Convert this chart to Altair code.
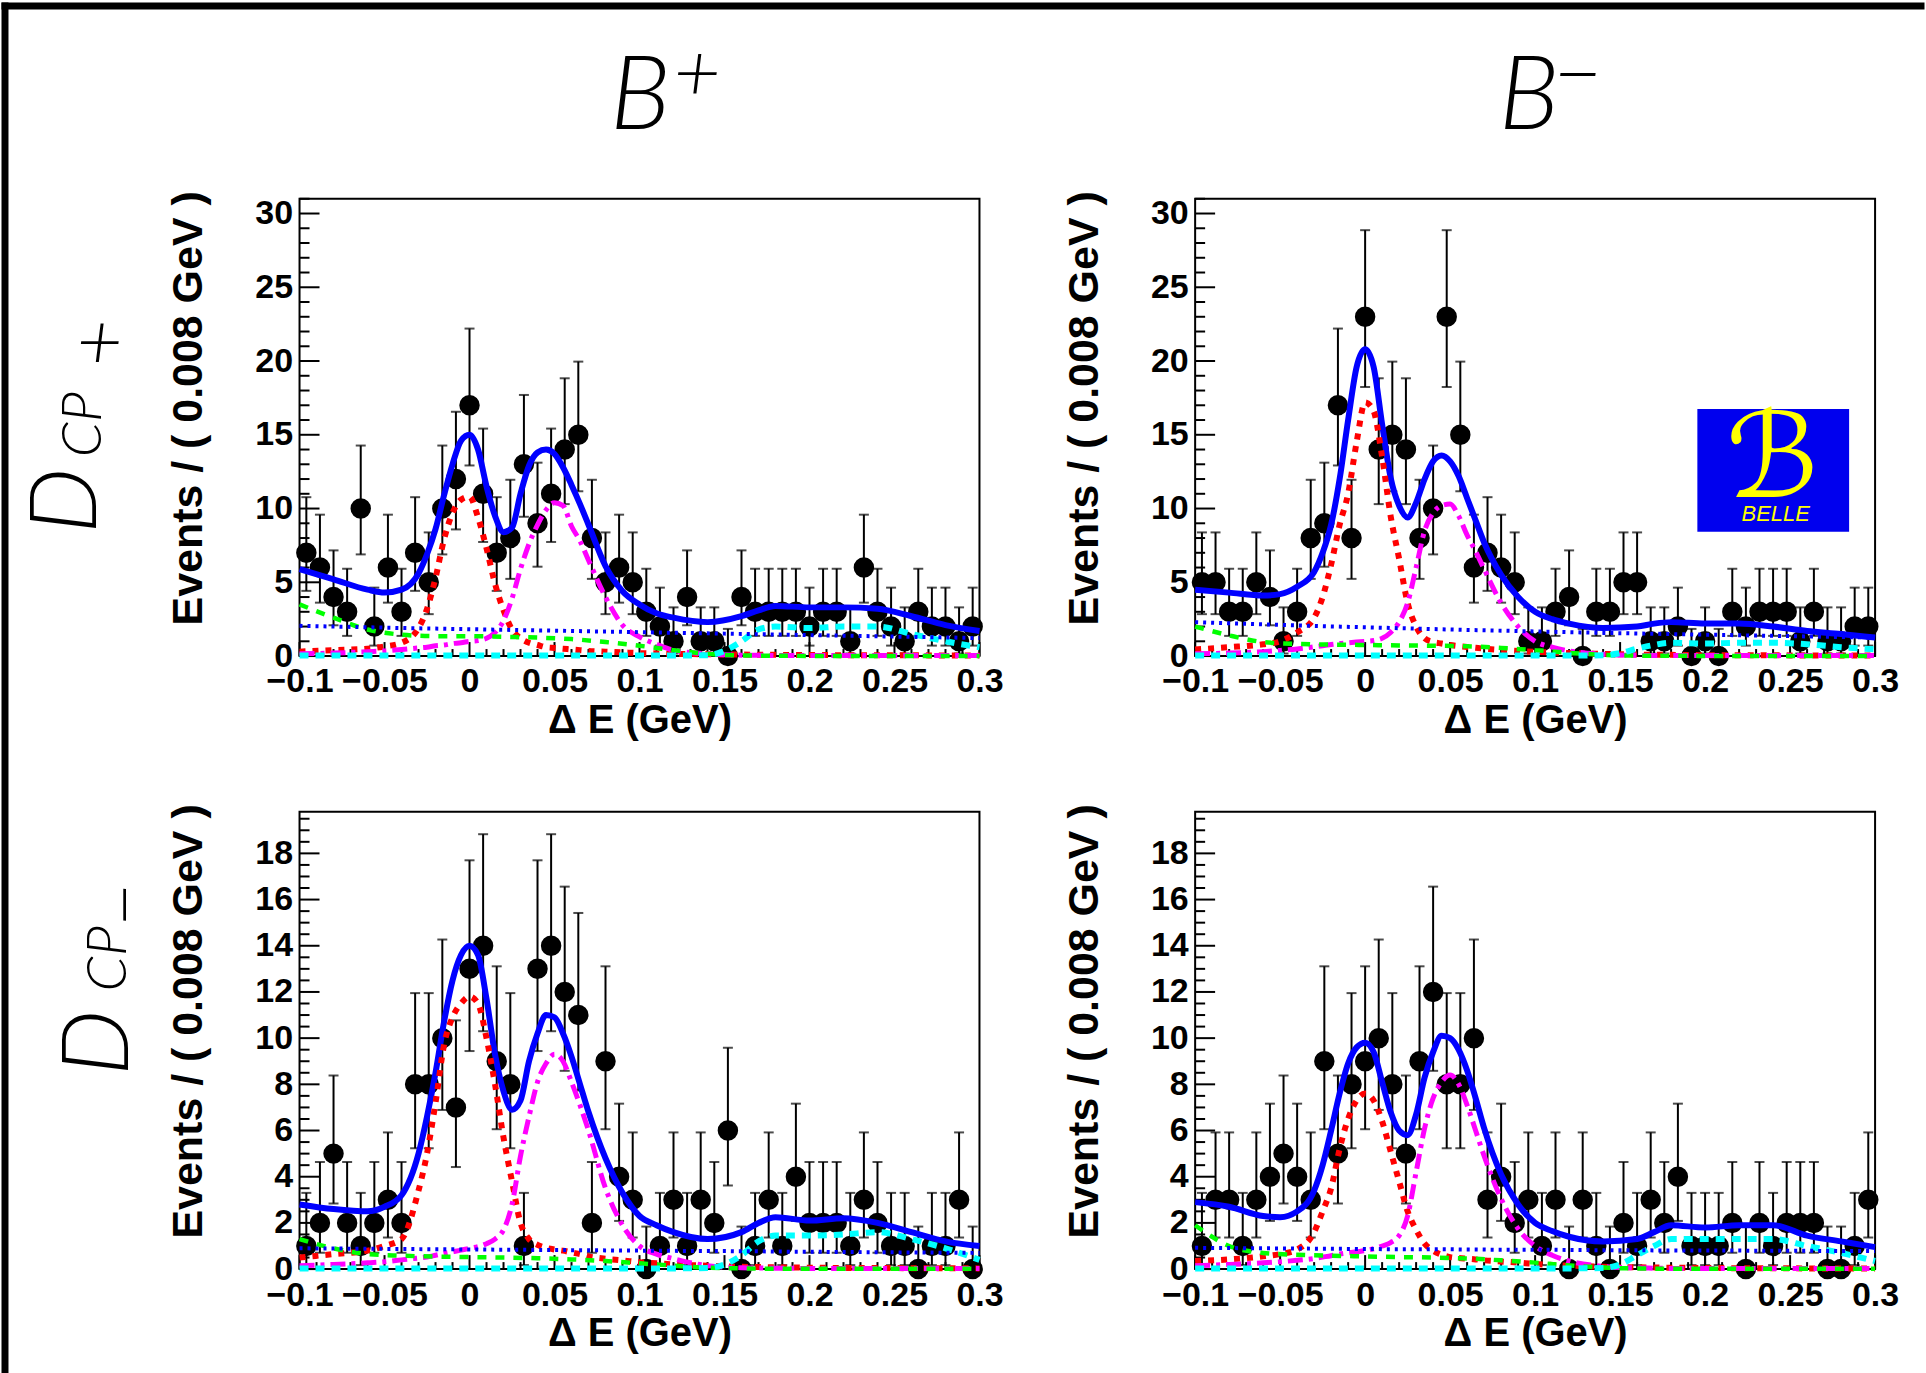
import altair as alt
import pandas as pd

# ---------------- data ----------------
BIN_CENTERS = [-0.096, -0.088, -0.080, -0.072, -0.064, -0.056, -0.048, -0.040, -0.032, -0.024,
               -0.016, -0.008, 0.000, 0.008, 0.016, 0.024, 0.032, 0.040, 0.048, 0.056,
               0.064, 0.072, 0.080, 0.088, 0.096, 0.104, 0.112, 0.120, 0.128, 0.136,
               0.144, 0.152, 0.160, 0.168, 0.176, 0.184, 0.192, 0.200, 0.208, 0.216,
               0.224, 0.232, 0.240, 0.248, 0.256, 0.264, 0.272, 0.280, 0.288, 0.296]

# 68% Poisson (Garwood) interval ends for n = 0..23 events
POIS_LO = [0.0, 0.173, 0.708, 1.367, 2.086, 2.840, 3.620, 4.419, 5.232, 6.057, 6.891, 7.734,
           8.585, 9.441, 10.30, 11.17, 12.04, 12.92, 13.80, 14.68, 15.57, 16.45, 17.35, 18.24]
POIS_HI = [1.841, 3.300, 4.638, 5.918, 7.163, 8.382, 9.584, 10.77, 11.95, 13.11, 14.27, 15.42,
           16.56, 17.70, 18.83, 19.96, 21.08, 22.20, 23.32, 24.44, 25.55, 26.66, 27.76, 28.87]

TL_COUNTS = [7, 6, 4, 3, 10, 2, 6, 3, 7, 5, 10, 12, 17, 11, 7, 8, 13, 9, 11, 14, 15, 8, 5, 6, 5,
             3, 2, 1, 4, 1, 1, 0, 4, 3, 3, 3, 3, 2, 3, 3, 1, 6, 3, 2, 1, 3, 2, 2, 1, 2]
TR_COUNTS = [5, 5, 3, 3, 5, 4, 1, 3, 8, 9, 17, 8, 23, 14, 15, 14, 8, 10, 23, 15, 6, 7, 6, 5, 1,
             1, 3, 4, 0, 3, 3, 5, 5, 1, 1, 2, 0, 1, 0, 3, 2, 3, 3, 3, 1, 3, 1, 1, 2, 2]
BL_COUNTS = [1, 2, 5, 2, 1, 2, 3, 2, 8, 8, 10, 7, 13, 14, 9, 8, 1, 13, 14, 12, 11, 2, 9, 4, 3,
             0, 1, 3, 1, 3, 2, 6, 0, 1, 3, 1, 4, 2, 2, 2, 1, 3, 2, 1, 1, 0, 1, 1, 3, 0]
BR_COUNTS = [1, 3, 3, 1, 3, 4, 5, 4, 3, 9, 5, 8, 9, 10, 8, 5, 9, 12, 8, 8, 10, 3, 4, 2, 3,
             1, 3, 0, 3, 1, 0, 2, 1, 3, 2, 4, 1, 1, 1, 2, 0, 2, 1, 2, 2, 2, 0, 0, 1, 3]

# sample points of the fitted curves
XS = [-0.1, -0.08, -0.06, -0.05, -0.04, -0.03, -0.025, -0.02, -0.015, -0.01, -0.005, 0.0,
      0.005, 0.01, 0.015, 0.02, 0.025, 0.03, 0.035, 0.04, 0.045, 0.05, 0.055, 0.06, 0.065,
      0.07, 0.08, 0.09, 0.1, 0.11, 0.12, 0.14, 0.16, 0.17, 0.18, 0.2, 0.22, 0.24, 0.26, 0.28, 0.3]
BG_X = [-0.1, -0.08, -0.06, -0.04, -0.02, 0.0, 0.02, 0.04, 0.06, 0.08, 0.1, 0.12, 0.14, 0.15,
        0.16, 0.17, 0.18, 0.2, 0.22, 0.24, 0.26, 0.28, 0.3]

TL_TOTAL = [5.9, 5.2, 4.5, 4.3, 4.5, 5.6, 6.9, 8.6, 10.9, 13.0, 14.6, 15.0, 14.0, 11.5, 9.5, 8.4,
            8.7, 11.0, 12.9, 13.8, 14.0, 13.7, 12.8, 11.6, 10.3, 8.9, 6.1, 4.4, 3.5, 2.9, 2.6,
            2.3, 2.7, 3.1, 3.4, 3.3, 3.3, 3.2, 2.7, 2.1, 1.7]
TL_RED = [0.3, 0.4, 0.5, 0.65, 0.9, 1.9, 3.2, 5.3, 7.9, 9.7, 10.6, 10.8, 9.4, 7.3, 4.9, 3.1, 1.8,
          1.2, 0.9, 0.75, 0.6, 0.55, 0.5, 0.45, 0.4, 0.35, 0.3, 0.25, 0.2, 0.18, 0.15, 0.12, 0.1,
          0.09, 0.08, 0.07, 0.06, 0.05, 0.05, 0.04, 0.04]
TL_MAG = [0.15, 0.2, 0.3, 0.35, 0.45, 0.55, 0.6, 0.7, 0.75, 0.85, 0.9, 1.0, 1.05, 1.2, 1.6, 2.4,
          3.9, 5.9, 7.6, 8.9, 9.9, 10.4, 10.2, 8.8, 7.8, 6.5, 4.0, 2.1, 1.3, 0.8, 0.4, 0.15, 0.06,
          0.05, 0.04, 0.03, 0.03, 0.03, 0.03, 0.03, 0.03]
TL_GREEN = [3.5, 2.6, 1.8, 1.45, 1.35, 1.35, 1.3, 1.25, 1.15, 0.95, 0.7, 0.4, 0.15, 0.08, 0.04,
            0.03, 0.02, 0.01, 0.01, 0.01, 0.01, 0.01, 0.01]
TL_CYAN = [0.03, 0.03, 0.03, 0.03, 0.03, 0.03, 0.03, 0.03, 0.03, 0.03, 0.03, 0.03, 0.06, 0.35,
           1.0, 1.8, 2.0, 1.9, 2.0, 2.0, 1.5, 1.0, 0.6]
TL_COMB = [2.05, 2.0, 1.95, 1.9, 1.86, 1.82, 1.78, 1.74, 1.7, 1.66, 1.62, 1.58, 1.54, 1.52, 1.5,
           1.48, 1.46, 1.42, 1.38, 1.34, 1.3, 1.26, 1.22]

TR_TOTAL = [4.5, 4.3, 4.1, 4.2, 4.7, 5.7, 7.0, 8.9, 12.0, 16.0, 19.6, 20.8, 19.6, 15.7, 12.1,
            10.2, 9.4, 10.4, 12.0, 13.2, 13.6, 13.2, 12.2, 10.7, 9.2, 7.7, 5.5, 4.0, 3.0, 2.5,
            2.2, 1.9, 2.0, 2.2, 2.3, 2.2, 2.2, 2.0, 1.7, 1.5, 1.25]
TR_RED = [0.45, 0.6, 0.8, 1.0, 1.6, 2.6, 4.0, 6.2, 8.9, 11.0, 14.5, 17.2, 16.6, 13.5, 9.5, 6.6,
          3.6, 2.0, 1.2, 0.95, 0.85, 0.75, 0.68, 0.62, 0.56, 0.5, 0.42, 0.35, 0.28, 0.24, 0.2,
          0.15, 0.1, 0.09, 0.08, 0.06, 0.05, 0.05, 0.04, 0.04, 0.03]
TR_MAG = [0.15, 0.2, 0.3, 0.38, 0.48, 0.62, 0.7, 0.78, 0.85, 0.9, 0.95, 1.0, 1.05, 1.2, 1.6, 2.3,
          3.6, 6.0, 8.5, 9.7, 10.2, 10.3, 9.5, 8.2, 7.1, 5.9, 3.6, 2.0, 1.0, 0.6, 0.35, 0.12,
          0.05, 0.04, 0.03, 0.03, 0.03, 0.03, 0.03, 0.03, 0.03]
TR_GREEN = [2.0, 1.4, 0.95, 0.82, 0.78, 0.75, 0.72, 0.7, 0.66, 0.55, 0.4, 0.22, 0.08, 0.05, 0.03,
            0.02, 0.02, 0.01, 0.01, 0.01, 0.01, 0.01, 0.01]
TR_CYAN = [0.03, 0.03, 0.03, 0.03, 0.03, 0.03, 0.03, 0.03, 0.03, 0.03, 0.03, 0.03, 0.05, 0.2,
           0.5, 0.75, 0.9, 0.85, 0.9, 0.9, 0.8, 0.6, 0.45]
TR_COMB = [2.3, 2.22, 2.15, 2.08, 2.01, 1.95, 1.89, 1.83, 1.77, 1.72, 1.67, 1.62, 1.57, 1.55,
           1.53, 1.51, 1.49, 1.45, 1.41, 1.37, 1.33, 1.29, 1.25]

BL_TOTAL = [2.8, 2.6, 2.5, 2.7, 3.2, 5.0, 6.6, 8.5, 10.7, 12.5, 13.6, 14.0, 13.6, 11.7, 9.3, 7.7,
            6.9, 7.3, 9.0, 10.2, 11.0, 10.9, 10.2, 9.2, 8.0, 6.8, 4.8, 3.3, 2.3, 1.9, 1.6, 1.3,
            1.6, 2.0, 2.25, 2.1, 2.2, 2.0, 1.6, 1.2, 1.0]
BL_RED = [0.5, 0.65, 0.8, 1.0, 1.3, 3.4, 5.0, 7.2, 9.7, 10.9, 11.5, 11.8, 11.5, 10.0, 8.0, 5.7,
          3.8, 2.0, 1.3, 1.05, 0.92, 0.85, 0.8, 0.72, 0.65, 0.55, 0.45, 0.38, 0.3, 0.25, 0.2,
          0.15, 0.1, 0.09, 0.08, 0.06, 0.05, 0.05, 0.04, 0.04, 0.03]
BL_MAG = [0.15, 0.2, 0.27, 0.32, 0.4, 0.48, 0.52, 0.6, 0.68, 0.75, 0.82, 0.9, 0.97, 1.1, 1.3,
          1.7, 2.8, 4.9, 6.6, 8.1, 8.9, 9.3, 9.0, 8.1, 7.1, 6.0, 3.5, 1.9, 1.0, 0.65, 0.45, 0.15,
          0.06, 0.05, 0.04, 0.03, 0.03, 0.03, 0.03, 0.03, 0.03]
BL_GREEN = [1.3, 0.9, 0.65, 0.58, 0.54, 0.52, 0.5, 0.47, 0.42, 0.35, 0.25, 0.15, 0.06, 0.04, 0.03,
            0.02, 0.02, 0.01, 0.01, 0.01, 0.01, 0.01, 0.01]
BL_CYAN = [0.03, 0.03, 0.03, 0.03, 0.03, 0.03, 0.03, 0.03, 0.03, 0.03, 0.03, 0.03, 0.05, 0.2,
           0.6, 1.2, 1.45, 1.45, 1.5, 1.6, 1.3, 0.9, 0.4]
BL_COMB = [0.9, 0.89, 0.88, 0.87, 0.86, 0.85, 0.84, 0.83, 0.82, 0.81, 0.8, 0.79, 0.78, 0.78, 0.77,
           0.77, 0.76, 0.75, 0.74, 0.73, 0.72, 0.71, 0.7]

BR_TOTAL = [2.9, 2.7, 2.3, 2.25, 2.5, 3.4, 4.5, 6.0, 7.6, 8.9, 9.6, 9.8, 9.4, 8.1, 6.8, 6.0, 5.8,
            6.7, 8.3, 9.4, 10.1, 10.0, 9.5, 8.6, 7.4, 6.1, 4.1, 2.8, 2.0, 1.65, 1.4, 1.2, 1.3,
            1.6, 1.9, 1.8, 1.9, 1.9, 1.45, 1.2, 0.95]
BR_RED = [0.35, 0.42, 0.55, 0.65, 0.85, 1.6, 2.5, 3.5, 5.2, 6.5, 7.3, 7.6, 7.3, 6.4, 5.1, 3.8,
          2.5, 1.7, 1.1, 0.8, 0.62, 0.52, 0.48, 0.45, 0.42, 0.38, 0.33, 0.28, 0.22, 0.18, 0.15,
          0.1, 0.08, 0.07, 0.06, 0.05, 0.04, 0.04, 0.03, 0.03, 0.03]
BR_MAG = [0.15, 0.2, 0.27, 0.32, 0.38, 0.46, 0.52, 0.58, 0.65, 0.7, 0.75, 0.8, 0.88, 1.0, 1.15,
          1.45, 2.3, 4.2, 6.1, 7.4, 8.1, 8.4, 8.0, 7.1, 6.0, 4.9, 3.05, 1.75, 1.0, 0.6, 0.35, 0.12,
          0.05, 0.04, 0.03, 0.03, 0.03, 0.03, 0.03, 0.03, 0.03]
BR_GREEN = [1.9, 1.0, 0.7, 0.62, 0.58, 0.55, 0.52, 0.5, 0.46, 0.38, 0.28, 0.16, 0.07, 0.04, 0.03,
            0.02, 0.02, 0.01, 0.01, 0.01, 0.01, 0.01, 0.01]
BR_CYAN = [0.03, 0.03, 0.03, 0.03, 0.03, 0.03, 0.03, 0.03, 0.03, 0.03, 0.03, 0.03, 0.05, 0.2,
           0.6, 1.0, 1.3, 1.3, 1.3, 1.3, 1.0, 0.7, 0.35]
BR_COMB = [0.92, 0.91, 0.9, 0.89, 0.88, 0.87, 0.86, 0.86, 0.85, 0.84, 0.84, 0.83, 0.82, 0.82,
           0.82, 0.81, 0.81, 0.8, 0.8, 0.79, 0.79, 0.78, 0.78]

X_MAJOR = [-0.1, -0.05, 0.0, 0.05, 0.1, 0.15, 0.2, 0.25, 0.3]
X_MINOR = [-0.09, -0.08, -0.07, -0.06, -0.04, -0.03, -0.02, -0.01, 0.01, 0.02, 0.03, 0.04, 0.06,
           0.07, 0.08, 0.09, 0.11, 0.12, 0.13, 0.14, 0.16, 0.17, 0.18, 0.19, 0.21, 0.22, 0.23,
           0.24, 0.26, 0.27, 0.28, 0.29]
TOP_Y_MAJOR = [0, 5, 10, 15, 20, 25, 30]
TOP_Y_MINOR = [1, 2, 3, 4, 6, 7, 8, 9, 11, 12, 13, 14, 16, 17, 18, 19, 21, 22, 23, 24, 26, 27,
               28, 29, 31]
BOT_Y_MAJOR = [0, 2, 4, 6, 8, 10, 12, 14, 16, 18]
BOT_Y_MINOR = [0.5, 1, 1.5, 2.5, 3, 3.5, 4.5, 5, 5.5, 6.5, 7, 7.5, 8.5, 9, 9.5, 10.5, 11, 11.5,
               12.5, 13, 13.5, 14.5, 15, 15.5, 16.5, 17, 17.5, 18.5, 19, 19.5]
TOP_YMAX = 31.0
BOT_YMAX = 19.8

# ---------------- styling ----------------
W, H = 681, 458
AX_FONT = "Liberation Sans"
TITLE_FONT = "Lato"
ONE = pd.DataFrame({"a": [0]})


def txt(text, x, y, size, font=TITLE_FONT, angle=0, align="left", baseline="alphabetic",
        color="black", style="italic", weight=300):
    return alt.Chart(ONE).mark_text(
        text=text, font=font, fontSize=size, fontStyle=style, fontWeight=weight,
        angle=angle, align=align, baseline=baseline, color=color
    ).encode(x=alt.value(x), y=alt.value(y))


def rect(x1, x2, y1, y2, color):
    return alt.Chart(ONE).mark_rect(color=color, opacity=1).encode(
        x=alt.value(x1), x2=alt.value(x2), y=alt.value(y1), y2=alt.value(y2))


def panel(counts, total, red, mag, green, cyan, comb, ymax, ymajor, yminor, extras):
    xs = alt.Scale(domain=[-0.1, 0.3], nice=False, zero=False)
    ys = alt.Scale(domain=[0, ymax], nice=False, zero=True)
    xaxis = alt.Axis(values=X_MAJOR, format="~g", ticks=False, tickSize=0, domain=False,
                     grid=False, labelFont=AX_FONT, labelFontWeight="bold", labelFontSize=34,
                     labelColor="black", labelPadding=9, labelFlush=False, labelOverlap=False,
                     title="Δ E (GeV)", titleFont=AX_FONT, titleFontWeight="bold",
                     titleFontSize=40, titleColor="black", titleX=W / 2, titleY=77,
                     titleAlign="center", titleBaseline="alphabetic")
    yaxis = alt.Axis(values=ymajor, format="d", ticks=False, tickSize=0, domain=False,
                     grid=False, labelFont=AX_FONT, labelFontWeight="bold", labelFontSize=34,
                     labelColor="black", labelPadding=7, labelFlush=False, labelOverlap=False,
                     title="Events / ( 0.008 GeV )", titleFont=AX_FONT, titleFontWeight="bold",
                     titleFontSize=43, titleColor="black", titleX=-98, titleY=-8,
                     titleAngle=270, titleAlign="right", titleBaseline="alphabetic")

    def X(f="x"):
        return alt.X(f, type="quantitative", scale=xs, axis=xaxis)

    def Y(f="y"):
        return alt.Y(f, type="quantitative", scale=ys, axis=yaxis)

    pts = pd.DataFrame({"x": BIN_CENTERS, "y": counts,
                        "lo": [POIS_LO[c] for c in counts],
                        "hi": [POIS_HI[c] for c in counts]})

    layers = []
    # inward ticks (ROOT style)
    layers.append(alt.Chart(pd.DataFrame({"y": yminor})).mark_rule(color="black", strokeWidth=2)
                  .encode(y=Y(), x=alt.value(0), x2=alt.value(10)))
    layers.append(alt.Chart(pd.DataFrame({"y": ymajor})).mark_rule(color="black", strokeWidth=2)
                  .encode(y=Y(), x=alt.value(0), x2=alt.value(20)))
    layers.append(alt.Chart(pd.DataFrame({"x": X_MINOR})).mark_rule(color="black", strokeWidth=2)
                  .encode(x=X(), y=alt.value(H), y2=alt.value(H - 7)))
    layers.append(alt.Chart(pd.DataFrame({"x": X_MAJOR})).mark_rule(color="black", strokeWidth=2)
                  .encode(x=X(), y=alt.value(H), y2=alt.value(H - 14)))
    # data with error bars
    base = alt.Chart(pts)
    layers.append(base.mark_rule(color="black", strokeWidth=2)
                  .encode(x=X(), y=Y("lo"), y2=alt.Y2("hi")))
    layers.append(base.mark_tick(orient="horizontal", color="black", thickness=2, size=10)
                  .encode(x=X(), y=Y("lo")))
    layers.append(base.mark_tick(orient="horizontal", color="black", thickness=2, size=10)
                  .encode(x=X(), y=Y("hi")))
    layers.append(base.mark_circle(color="black", opacity=1, size=420)
                  .encode(x=X(), y=Y()))

    def curve(xv, yv, color, width, dash=None):
        kw = dict(color=color, strokeWidth=width, interpolate="monotone")
        if dash:
            kw["strokeDash"] = dash
        return alt.Chart(pd.DataFrame({"x": xv, "y": yv})).mark_line(**kw).encode(x=X(), y=Y())

    layers.append(curve(XS, total, "#0000ff", 6))
    layers.append(curve(XS, red, "#ff0000", 6, [6, 7]))
    layers.append(curve(XS, mag, "#ff00ff", 5, [15, 6, 4, 6]))
    layers.append(curve(BG_X, green, "#00ff00", 4.5, [9, 9]))
    layers.append(curve(BG_X, cyan, "#00ffff", 6, [9, 7]))
    layers.append(curve(BG_X, comb, "#0000ff", 4, [3, 5]))
    layers.extend(extras)
    return alt.layer(*layers).properties(width=W, height=H)


# decorations (pixel offsets relative to each plot area)
tl_extras = [
    rect(-298.5, 1627.5, -196.5, -189.5, "black"),      # top border strip
    rect(-298.5, -291.5, -196.5, 1176.5, "black"),      # left border strip
    txt("B", 311, -69.5, 103),
    txt("+", 398, -122.5, 82, align="center", baseline="middle"),
    txt("D", -203.5, 335.5, 93, angle=270),
    txt("CP", -198.5, 259, 56, angle=270),
    txt("+", -200.5, 146.5, 80, align="center", baseline="middle"),
]
tr_extras = [
    txt("B", 304, -69.5, 103),
    txt("−", 383, -121.5, 85, align="center", baseline="middle"),
    rect(503, 655, 210.5, 333.5, "#0000ee"),
    txt("ℬ", 578, 299, 118, font="DejaVu Sans", align="center", color="#ffff00",
        style="normal", weight="normal"),
    txt("BELLE", 581.5, 322.5, 22, font="Liberation Sans", align="center", color="#ffff00",
        weight="normal"),
]
bl_extras = [
    txt("D", -171.5, 264.3, 93, angle=270),
    txt("CP", -173.5, 180, 56, angle=270),
    txt("−", -172, 93.3, 77, angle=270, align="center", baseline="middle"),
]

TL = panel(TL_COUNTS, TL_TOTAL, TL_RED, TL_MAG, TL_GREEN, TL_CYAN, TL_COMB,
           TOP_YMAX, TOP_Y_MAJOR, TOP_Y_MINOR, tl_extras)
TR = panel(TR_COUNTS, TR_TOTAL, TR_RED, TR_MAG, TR_GREEN, TR_CYAN, TR_COMB,
           TOP_YMAX, TOP_Y_MAJOR, TOP_Y_MINOR, tr_extras)
BL = panel(BL_COUNTS, BL_TOTAL, BL_RED, BL_MAG, BL_GREEN, BL_CYAN, BL_COMB,
           BOT_YMAX, BOT_Y_MAJOR, BOT_Y_MINOR, bl_extras)
BR = panel(BR_COUNTS, BR_TOTAL, BR_RED, BR_MAG, BR_GREEN, BR_CYAN, BR_COMB,
           BOT_YMAX, BOT_Y_MAJOR, BOT_Y_MINOR, [])

chart = alt.concat(TL, TR, BL, BR, columns=2).properties(
    spacing={"row": 156, "column": 216},
    bounds="flush",
    padding={"left": 0, "top": 0, "right": 0, "bottom": 0},
    background="white",
).configure_view(stroke="black", strokeWidth=2)

chart.save("out.html", embed_options={"renderer": "svg", "actions": False})
